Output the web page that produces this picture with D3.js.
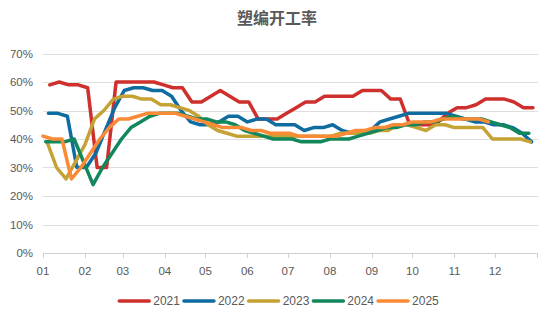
<!DOCTYPE html>
<html><head><meta charset="utf-8">
<script src="https://cdn.jsdelivr.net/npm/d3@7"></script>
<style>body{margin:0;background:#fff} svg{display:block;font-family:"Liberation Sans",Arial,sans-serif}</style>
</head><body><svg id="c" width="555" height="322"></svg>
<script>
const title = "塑编开工率";
const years = ["2021","2022","2023","2024","2025"];
const startDates = ["2021-01-06","2022-01-05","2023-01-04","2024-01-03","2025-01-01"];
const v2021 = [59,60,59,59,58,30,30,60,60,60,60,60,59,58,58,53,53,55,57,55,53,53,47,47,47,49,51,53,53,55,55,55,55,57,57,57,54,54,45,45,45,46,49,51,51,52,54,54,54,53,51,51];
const v2022 = [49,49,48,30,30,35,43,51,57,58,58,57,57,55,50,46,45,45,46,48,48,46,47,47,45,45,45,43,44,44,45,43,42,42,43,46,47,48,49,49,49,49,49,48,47,46,46,45,45,44,42,39];
const v2023 = [39,30,26,32,38,47,50,54,55,55,54,54,52,52,51,50,48,45,43,42,41,41,41,41,41,41,41,41,41,41,41,42,42,42,42,43,43,45,45,44,43,45,45,44,44,44,44,40,40,40,40,39];
const v2024 = [39,39,39,40,32,24,30,35,40,44,46,48,49,49,49,48,47,47,46,46,45,43,42,41,40,40,40,39,39,39,40,40,40,41,42,43,44,44,45,45,46,46,47,48,47,47,47,46,45,44,42,42];
const v2025 = [41,40,40,26,30,35,40,44,47,47,48,49,49,49,49,48,47,46,45,44,44,44,43,43,42,42,42,41,41,41,41,41,42,43,43,44,44,45,45,46,46,46,47,47,47,47,47,46];
const seriesValues = [v2021, v2022, v2023, v2024, v2025];
const colors = ["#CE302D","#0E6CA1","#C5A234","#12875B","#F98A36"];
const monthLabels = ["01","02","03","04","05","06","07","08","09","10","11","12"];
const yTicks = [0,10,20,30,40,50,60,70];

const svg = d3.select("#c");
const pLeft = 43, pRight = 537, pBottom = 253, pTop = 53.5;
const x = d3.scaleLinear().domain([0,365]).range([pLeft,pRight]);
const y = d3.scaleLinear().domain([0,70]).range([pBottom,pTop]);
const parse = d3.timeParse("%Y-%m-%d");
const doy = d => d3.timeDay.count(d3.timeYear(d), d);

// title
svg.append("text").attr("x",277).attr("y",16.5).attr("text-anchor","middle")
  .attr("dominant-baseline","central")
  .style("font-family",'"Noto Sans CJK SC",sans-serif').style("font-size","16px").style("font-weight","bold")
  .attr("fill","#595959").text(title);

// grid
svg.append("g").selectAll("line").data(yTicks).join("line")
  .attr("x1",pLeft).attr("x2",pRight+1).attr("y1",d=>Math.round(y(d))+0.5).attr("y2",d=>Math.round(y(d))+0.5)
  .attr("stroke",d=>d===0?"#d0d0d0":"#dedede").attr("stroke-width",1);
svg.append("g").selectAll("text").data(yTicks).join("text")
  .attr("x",33).attr("y",d=>y(d)).attr("text-anchor","end").attr("dominant-baseline","central")
  .attr("fill","#595959").style("font-size","11.5px").text(d=>d+"%");

// x ticks at month starts
const refYear = 2023;
const monthStarts = d3.range(12).map(m => doy(new Date(refYear,m,1)));
const tickPos = monthStarts.concat([365]);
svg.append("g").selectAll("line").data(tickPos).join("line")
  .attr("x1",d=>Math.round(x(d))+0.5).attr("x2",d=>Math.round(x(d))+0.5)
  .attr("y1",pBottom).attr("y2",pBottom+5).attr("stroke","#d0d0d0");
svg.append("g").selectAll("text").data(monthLabels).join("text")
  .attr("x",(d,i)=>x(monthStarts[i])).attr("y",271).attr("text-anchor","middle")
  .attr("dominant-baseline","central").attr("fill","#595959").style("font-size","11.5px").text(d=>d);

// lines
const line = d3.line().x(d=>x(d[0])).y(d=>y(d[1]));
seriesValues.forEach((vals,k)=>{
  const s = parse(startDates[k]);
  const pts = vals.map((v,i)=>[doy(d3.timeDay.offset(s,7*i)), v]);
  svg.append("path").datum(pts).attr("d",line).attr("fill","none")
    .attr("stroke",colors[k]).attr("stroke-width",3.5)
    .attr("stroke-linejoin","round").attr("stroke-linecap","round");
});

// legend
const lg = svg.append("g");
let cx = 0;
years.forEach((yr,k)=>{
  const g = lg.append("g").attr("transform",`translate(${cx},0)`);
  g.append("line").attr("x1",1).attr("x2",31).attr("y1",0).attr("y2",0)
    .attr("stroke",colors[k]).attr("stroke-width",3.5).attr("stroke-linecap","round");
  const t = g.append("text").attr("x",35).attr("y",0).attr("dominant-baseline","central")
    .attr("fill","#595959").style("font-size","12px").text(yr);
  cx += 35 + t.node().getComputedTextLength() + 3;
});
const lw = cx - 3;
lg.attr("transform",`translate(${(555-lw)/2 + 1},301)`);
</script></body></html>
